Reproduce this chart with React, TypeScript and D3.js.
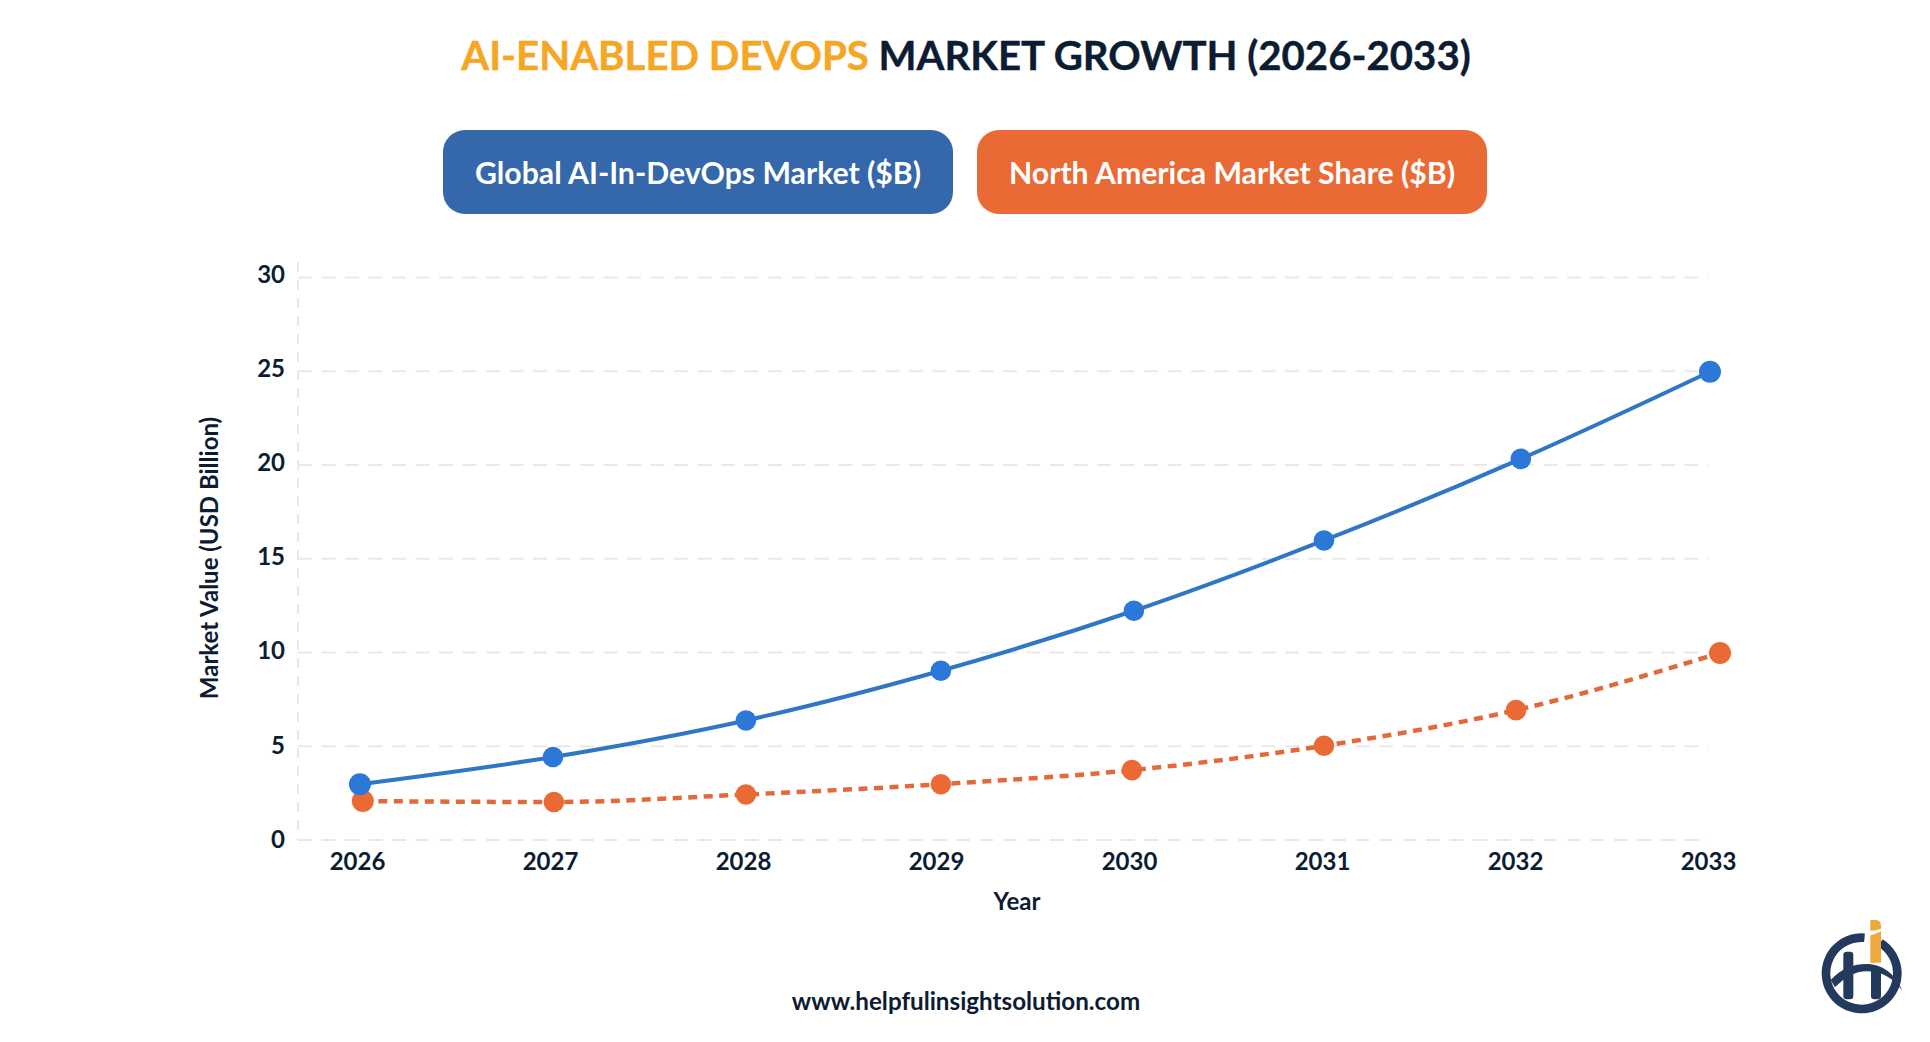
import React, { useEffect, useRef } from 'react';
import * as d3 from 'd3';

const years = [2026, 2027, 2028, 2029, 2030, 2031, 2032, 2033];
const yTicks = [0, 5, 10, 15, 20, 25, 30];

// markers sit a little off the tick positions in the picture, so x is read per point
const globalX = [2026.01, 2027.01, 2028.01, 2029.02, 2030.02, 2031.005, 2032.025, 2033.005];
const globalValues = [2.95, 4.4, 6.35, 9.0, 12.2, 15.95, 20.3, 24.95];
const northAmericaX = [2026.025, 2027.015, 2028.01, 2029.02, 2030.01, 2031.005, 2032.0, 2033.057];
const northAmericaValues = [2.05, 2.0, 2.4, 2.95, 3.7, 5.0, 6.9, 9.95];

const legendItems = ['Global AI-In-DevOps Market ($B)', 'North America Market Share ($B)'];

const NAVY = '#0c1c33';
const FONT = 'Lato, sans-serif';

const App: React.FC = () => {
    const svgRef = useRef<SVGSVGElement>(null);

    useEffect(() => {
        const svg = d3.select(svgRef.current);
        svg.selectAll('*').remove();

        const x = d3.scaleLinear().domain([2026, 2033]).range([358, 1709]);
        const y = d3.scaleLinear().domain([0, 30]).range([839.5, 277]);

        // Title
        const title = svg.append('text')
            .attr('x', 966)
            .attr('y', 70)
            .attr('text-anchor', 'middle')
            .style('font-family', FONT)
            .style('font-size', '40.2px')
            .style('font-weight', 700)
            .style('stroke-width', 0.4);
        title.append('tspan').attr('fill', '#f5a623').attr('stroke', '#f5a623').text('AI-ENABLED DEVOPS');
        title.append('tspan').attr('fill', NAVY).attr('stroke', NAVY).text(' MARKET GROWTH (2026-2033)');

        // Legend buttons
        const buttons = svg.selectAll('.legend-button')
            .data(legendItems)
            .enter()
            .append('g')
            .attr('class', 'legend-button')
            .attr('transform', (d, i) => `translate(${i === 0 ? 443 : 977},130)`);

        buttons.append('rect')
            .attr('width', 510)
            .attr('height', 84)
            .attr('rx', 22)
            .attr('fill', (d, i) => (i === 0 ? '#3567ab' : '#ea6a36'));

        buttons.append('text')
            .attr('x', 255)
            .attr('y', 43)
            .attr('dy', '0.35em')
            .attr('text-anchor', 'middle')
            .attr('fill', '#fff')
            .style('font-family', FONT)
            .style('font-size', '30.2px')
            .style('font-weight', 700)
            .text(d => d);

        // Y axis with the grid
        const yAxis = svg.append('g')
            .attr('transform', 'translate(298,0)')
            .call(d3.axisLeft(y).tickValues(yTicks).tickSize(-1411).tickPadding(13));
        yAxis.select('.domain').remove();
        yAxis.selectAll('.tick line')
            .attr('stroke', '#e9e9e9')
            .attr('stroke-width', 2)
            .attr('stroke-dasharray', '14 9.5');
        // labels drift upwards from the gridlines towards the top of the axis
        yAxis.selectAll('.tick text')
            .attr('y', (d: any) => -(d / 30) * 2.5)
            .attr('fill', NAVY)
            .style('font-family', FONT)
            .style('font-size', '24px')
            .style('font-weight', 700);

        svg.append('line')
            .attr('x1', 298)
            .attr('x2', 298)
            .attr('y1', 262)
            .attr('y2', y(0))
            .attr('stroke', '#e9e9e9')
            .attr('stroke-width', 2)
            .attr('stroke-dasharray', '10 8');

        // X axis
        const xAxis = svg.append('g')
            .attr('transform', `translate(-1,${y(0)})`)
            .call(d3.axisBottom(x).tickValues(years).tickFormat(d3.format('d')).tickSize(0).tickPadding(13.5));
        xAxis.select('.domain').remove();
        xAxis.selectAll('.tick text')
            .attr('fill', NAVY)
            .style('font-family', FONT)
            .style('font-size', '24px')
            .style('font-weight', 700);

        // Series
        const series = [
            { xs: northAmericaX, values: northAmericaValues, lineColor: '#e26a3a', dotColor: '#e96a35', dash: '9 6.5', width: 4.5 },
            { xs: globalX, values: globalValues, lineColor: '#2f77c6', dotColor: '#2b78d8', dash: null, width: 4 }
        ];

        series.forEach(s => {
            const pts = s.xs.map((d, i) => [x(d), y(s.values[i])] as [number, number]);
            svg.append('path')
                .attr('d', d3.line().curve(d3.curveMonotoneX)(pts))
                .attr('fill', 'none')
                .attr('stroke', s.lineColor)
                .attr('stroke-width', s.width)
                .attr('stroke-dasharray', s.dash);
            svg.append('g')
                .selectAll('circle')
                .data(pts)
                .enter()
                .append('circle')
                .attr('cx', d => d[0])
                .attr('cy', d => d[1])
                .attr('r', (d, i) => (i === 0 || i === pts.length - 1 ? 11 : 10.3))
                .attr('fill', s.dotColor);
        });

        // Axis titles and footer
        svg.append('text')
            .attr('transform', 'translate(210,558) rotate(-90)')
            .attr('text-anchor', 'middle')
            .attr('dy', '0.35em')
            .attr('fill', NAVY)
            .style('font-family', FONT)
            .style('font-size', '24px')
            .style('font-weight', 700)
            .text('Market Value (USD Billion)');

        svg.append('text')
            .attr('x', 1017)
            .attr('y', 902)
            .attr('dy', '0.35em')
            .attr('text-anchor', 'middle')
            .attr('fill', NAVY)
            .style('font-family', FONT)
            .style('font-size', '24px')
            .style('font-weight', 700)
            .text('Year');

        svg.append('text')
            .attr('x', 966)
            .attr('y', 1002)
            .attr('dy', '0.35em')
            .attr('text-anchor', 'middle')
            .attr('fill', NAVY)
            .style('font-family', FONT)
            .style('font-size', '24.2px')
            .style('font-weight', 700)
            .text('www.helpfulinsightsolution.com');

        // Logo
        const logo = svg.append('g').attr('transform', 'translate(1800,900) scale(0.3333)');
        const ring = d3.arc()
            .innerRadius(94)
            .outerRadius(120);
        logo.append('path')
            .attr('transform', 'translate(185,220)')
            .attr('d', ring({ startAngle: 0.55, endAngle: Math.PI * 2 + 0.08 } as any))
            .attr('fill', '#233a5e');
        logo.append('path')
            .attr('d', 'M92 240 C125 205 160 192 200 192 C245 192 285 220 307 272 C280 235 245 214 200 214 C165 214 135 232 105 262 Z')
            .attr('fill', '#233a5e');
        logo.append('rect').attr('x', 130).attr('y', 155).attr('width', 30).attr('height', 143).attr('rx', 10).attr('fill', '#233a5e');
        logo.append('rect').attr('x', 213).attr('y', 200).attr('width', 30).attr('height', 98).attr('rx', 10).attr('fill', '#233a5e');
        logo.append('path')
            .attr('d', 'M211 106 Q228 102 243 94 L243 188 L211 188 Z')
            .attr('fill', '#efa93a');
        logo.append('path')
            .attr('d', 'M211 60 L230 60 Q243 62 243 78 L243 86 Q228 92 211 92 Z')
            .attr('fill', '#efa93a');
    }, []);

    return (
        <svg
            ref={svgRef}
            width={1930}
            height={1042}
            style={{ position: 'absolute', left: 0, top: 0, background: '#fff' }}
        />
    );
};

export default App;
